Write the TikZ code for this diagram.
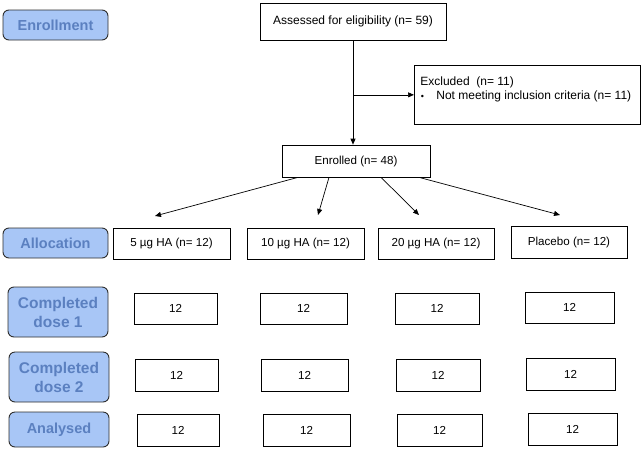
\documentclass[tikz,border=0pt]{standalone}
\usepackage{fontspec}
\setmainfont{Liberation Sans}
\usepackage{tikz}
\usetikzlibrary{arrows.meta}
\usetikzlibrary{shapes}

\definecolor{phasefill}{HTML}{A8C6F6}
\definecolor{phasetext}{HTML}{5B80C0}
\definecolor{phaseline}{HTML}{2E2E2E}

\begin{document}
\begin{tikzpicture}[x=1pt,y=-1pt]

\tikzstyle{phase}=[rectangle,rounded corners={6pt},draw={phaseline},line width={0.9pt},fill={phasefill},text={phasetext},font={\fontsize{14.5}{16.5}\selectfont\bfseries},align={center},inner sep={0pt}]
\tikzstyle{arm}=[rectangle,draw,line width={0.7pt},font={\fontsize{11.6}{13.5}\selectfont},align={center},inner sep={0pt}]
\tikzstyle{flow}=[->,>={Triangle[length=6pt,width=5pt]},line width={0.7pt}]

\useasboundingbox (0,0) rectangle (644,450);

% phases: labels on the left

\node at (55.5,25)  [phase,minimum width={105pt},minimum height={30pt}] (P0) {Enrollment} ;
\node at (55.5,243) [phase,minimum width={105pt},minimum height={30pt}] (P1) {Allocation} ;
\node at (58,312)   [phase,minimum width={100pt},minimum height={50pt},font={\fontsize{15.5}{19}\selectfont\bfseries}] (P2) {Completed\\dose 1} ;
\node at (59,377)   [phase,minimum width={100pt},minimum height={50pt},font={\fontsize{15.5}{19}\selectfont\bfseries}] (P3) {Completed\\dose 2} ;
\node at (59,429.5) [phase,minimum width={100pt},minimum height={35pt}] (P4) {Analysed} ;

% enrollment: assessed, excluded, enrolled

\node at (353,21.5) [arm,minimum width={186pt},minimum height={37pt},font={\fontsize{12}{14}\selectfont}] (A) {Assessed for eligibility (n= 59)} ;
\node at (414,65) [draw,rectangle,line width={0.7pt},anchor={north west},inner xsep={6pt},inner ysep={0pt},font={\fontsize{12}{14}\selectfont}] (X) {\parbox[b][59pt][t]{214pt}{\vspace*{11.5pt}Excluded\ \ (n= 11)\\\makebox[16pt][l]{\hspace{0.5pt}\raisebox{0.5pt}{\small\textbullet}}Not meeting inclusion criteria (n= 11)}} ;
\node at (356,161) [arm,minimum width={148pt},minimum height={32pt}] (E) {Enrolled (n= 48)} ;

% allocation: arms

\node at (171.5,243.5) [arm,minimum width={117pt},minimum height={31pt}] (G1) {5 µg HA (n= 12)} ;
\node at (305.5,243.5) [arm,minimum width={117pt},minimum height={31pt}] (G2) {10 µg HA (n= 12)} ;
\node at (436,243.5)   [arm,minimum width={116pt},minimum height={31pt}] (G3) {20 µg HA (n= 12)} ;
\node at (569,242)     [arm,minimum width={116pt},minimum height={32pt}] (G4) {Placebo (n= 12)} ;

% follow-up: counts per arm

\node at (175.5,308.5) [arm,minimum width={83pt},minimum height={31pt}] (D1G1) {12} ;
\node at (303.5,308.5) [arm,minimum width={87pt},minimum height={31pt}] (D1G2) {12} ;
\node at (437,308.5)   [arm,minimum width={84pt},minimum height={31pt}] (D1G3) {12} ;
\node at (569.5,307.5) [arm,minimum width={89pt},minimum height={31pt}] (D1G4) {12} ;

\node at (176.5,375) [arm,minimum width={83pt},minimum height={32pt}] (D2G1) {12} ;
\node at (304.5,375) [arm,minimum width={87pt},minimum height={32pt}] (D2G2) {12} ;
\node at (438,375)   [arm,minimum width={84pt},minimum height={32pt}] (D2G3) {12} ;
\node at (570.5,374) [arm,minimum width={89pt},minimum height={32pt}] (D2G4) {12} ;

\node at (178,430)   [arm,minimum width={82pt},minimum height={32pt}] (N1) {12} ;
\node at (306.5,430) [arm,minimum width={87pt},minimum height={32pt}] (N2) {12} ;
\node at (439.5,430) [arm,minimum width={85pt},minimum height={32pt}] (N3) {12} ;
\node at (572.5,429) [arm,minimum width={89pt},minimum height={32pt}] (N4) {12} ;

% connections: enrollment

\draw [flow] (A.south) -- (A.south |- E.north) ;
\draw [flow] (A.south |- X.west) -- (X.west) ;

% connections: allocation (tips stop short of the arms)

\coordinate (T1) at (155,216) ;
\coordinate (T2) at (318,215) ;
\coordinate (T3) at (419,215) ;
\coordinate (T4) at (560,215) ;

\draw [flow] ([xshift={-58pt}] E.south) -- (T1) ;
\draw [flow] ([xshift={-27pt}] E.south) -- (T2) ;
\draw [flow] ([xshift={+25pt}] E.south) -- (T3) ;
\draw [flow] ([xshift={+63pt}] E.south) -- (T4) ;

\end{tikzpicture}
\end{document}
